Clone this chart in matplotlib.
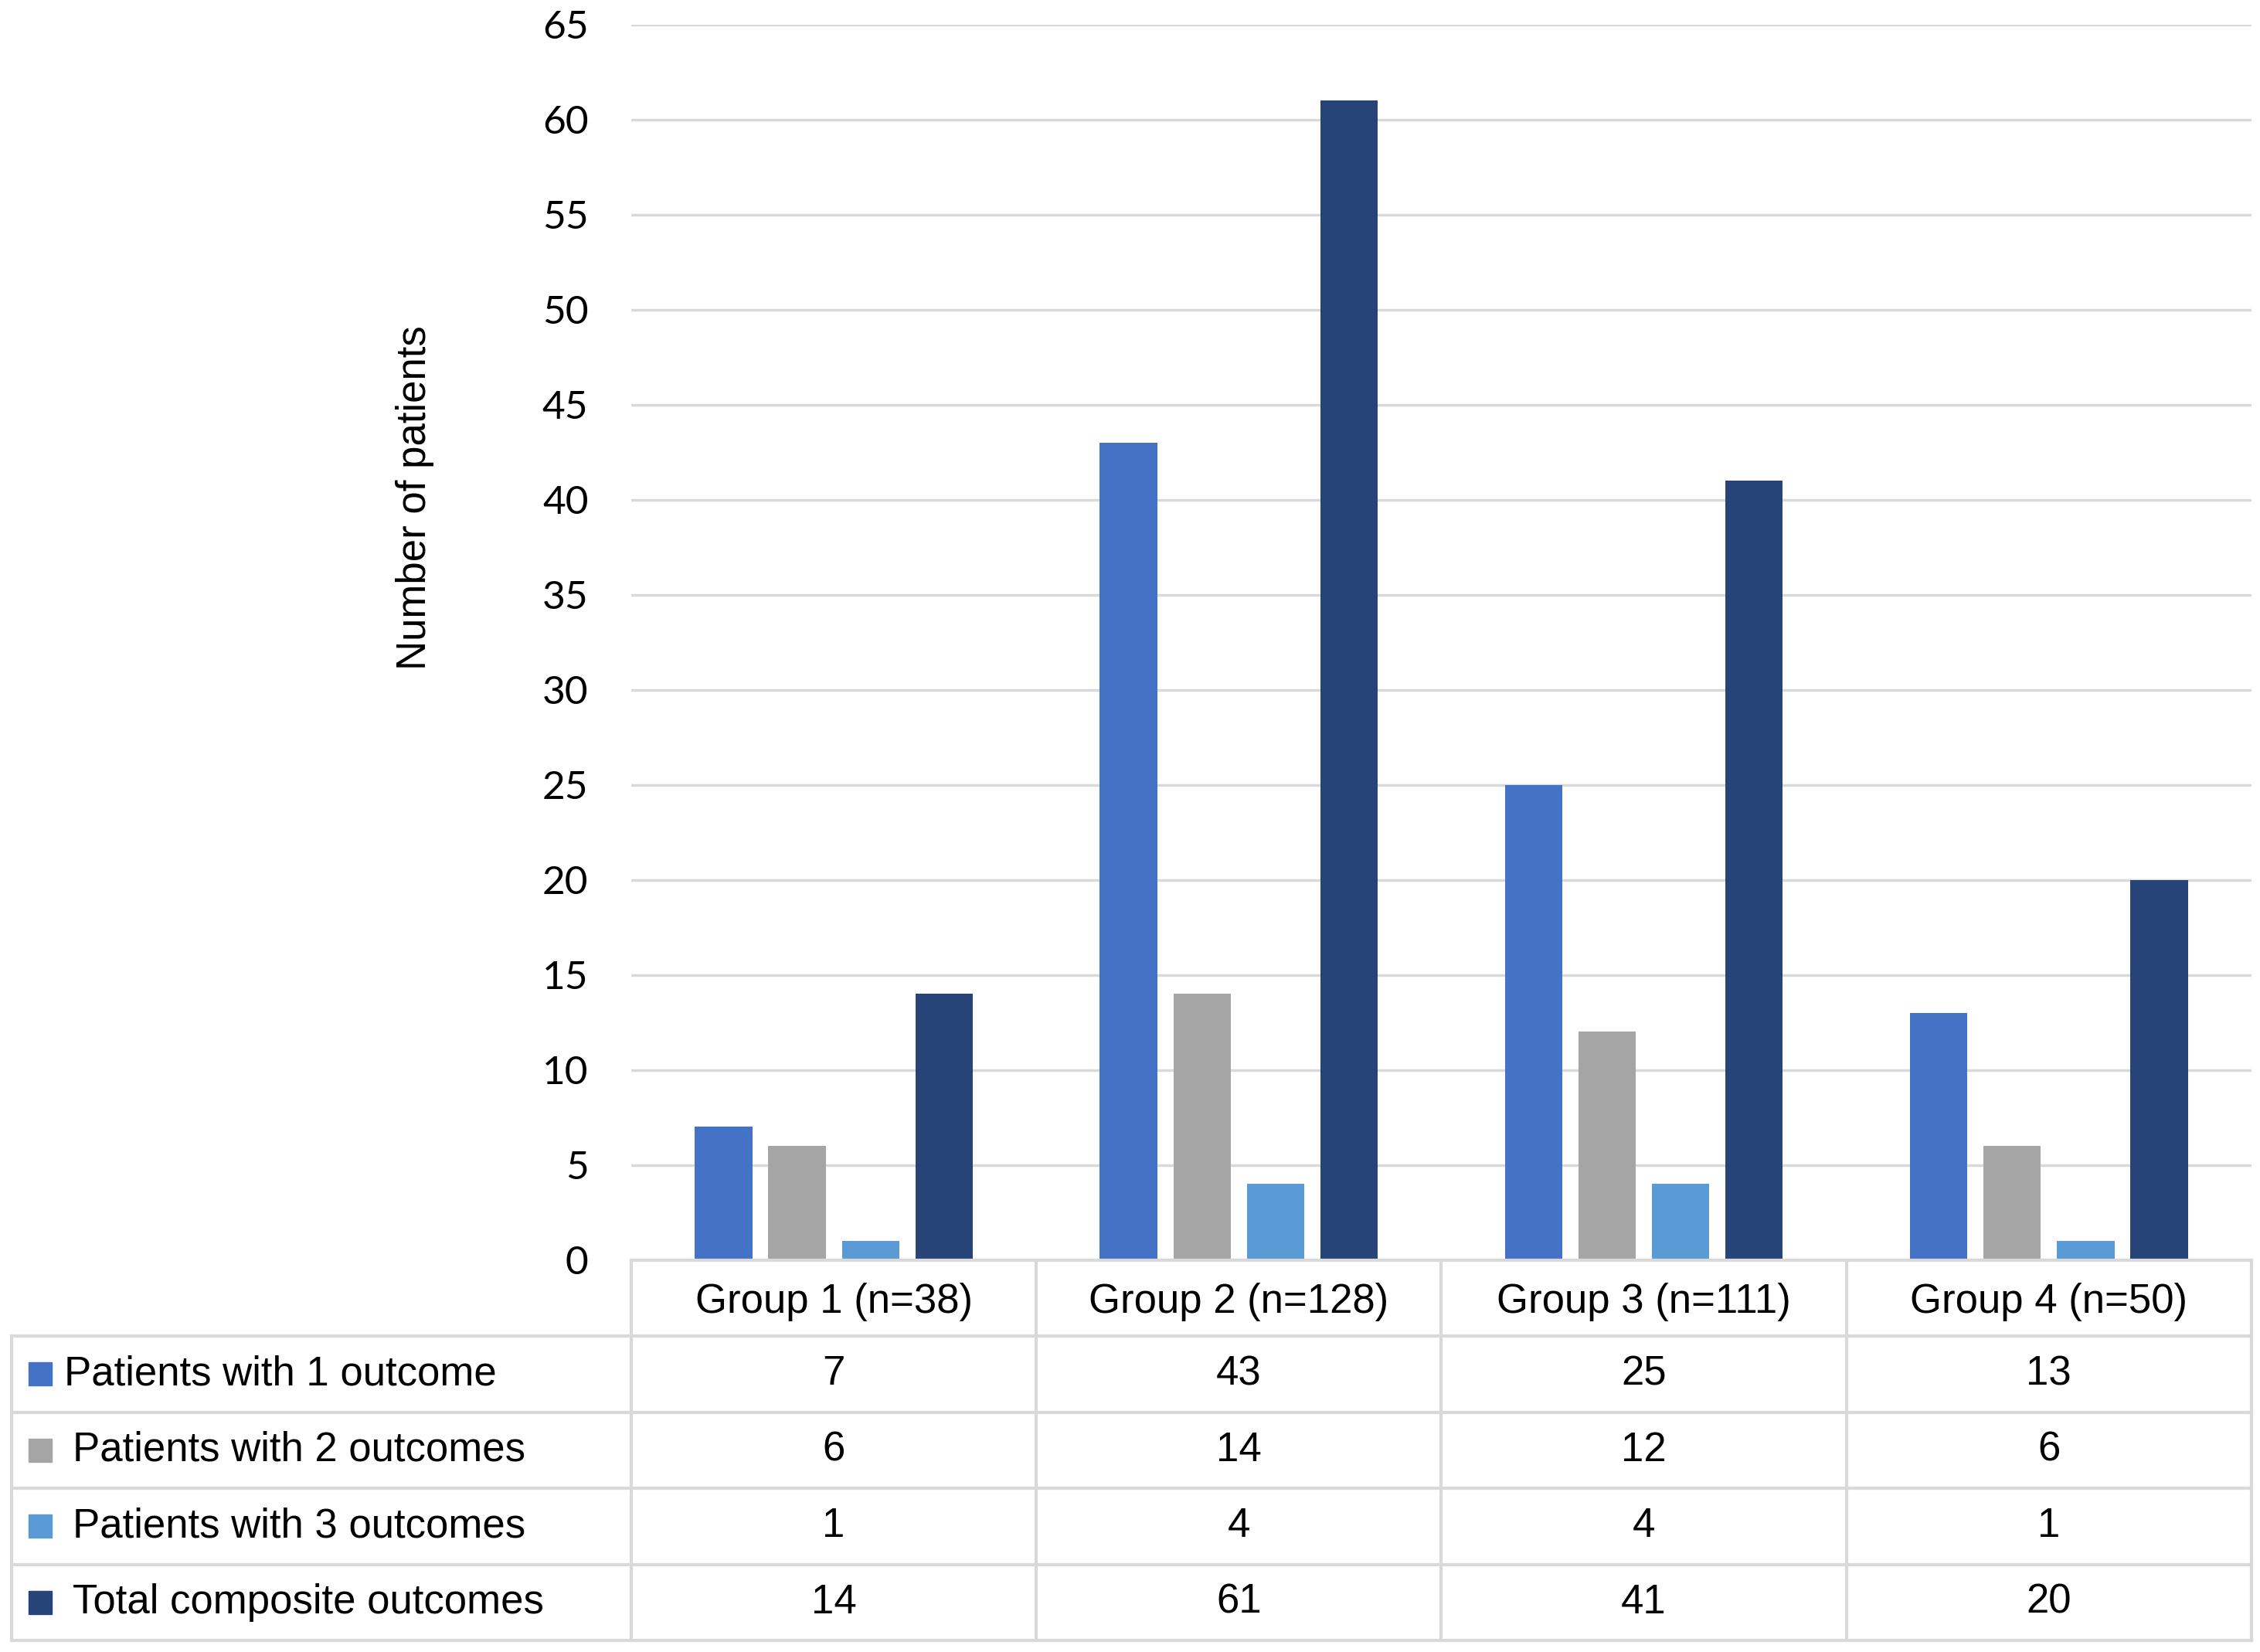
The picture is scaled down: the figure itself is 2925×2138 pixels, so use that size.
import numpy as np
import matplotlib.pyplot as plt

# Data
groups = ['Group 1 (n=38)', 'Group 2 (n=128)', 'Group 3 (n=111)', 'Group 4 (n=50)']
series_names = ['Patients with 1 outcome', 'Patients with 2 outcomes',
                'Patients with 3 outcomes', 'Total composite outcomes']
one_outcome = [7, 43, 25, 13]
two_outcomes = [6, 14, 12, 6]
three_outcomes = [1, 4, 4, 1]
total_composite = [14, 61, 41, 20]
yticks = list(range(0, 70, 5))

series = [one_outcome, two_outcomes, three_outcomes, total_composite]
colors = ['#4472C4', '#A5A5A5', '#5B9BD5', '#264478']
grid_color = '#D9D9D9'

fig = plt.figure(figsize=(29.25, 21.38), dpi=100)

# figure-fraction layout (measured on the reference)
W, H = 1568.0, 1146.0
left, right = 438 / W, 1562 / W
bottom, top = 1 - 874 / H, 1 - 17 / H

ax = fig.add_axes([left, bottom, right - left, top - bottom])
x = np.arange(len(groups))
step, width = 0.1815, 0.142
for i, (vals, col) in enumerate(zip(series, colors)):
    ax.bar(x + (i - 1.5) * step, vals, width=width, color=col, zorder=3)

ax.set_xlim(-0.5, len(groups) - 0.5)
ax.set_ylim(0, 65)
ax.set_yticks(yticks)
ax.set_yticklabels([str(t) for t in yticks], fontsize=37, family='Lato')
ax.tick_params(axis='y', length=0, pad=40)
ax.set_xticks([])
ax.yaxis.grid(True, color=grid_color, linewidth=2.5, zorder=0)
for s in ax.spines.values():
    s.set_visible(False)

fig.text(288 / W, 1 - 345 / H, 'Number of patients', rotation=90,
         ha='center', va='center', fontsize=38, family='Liberation Sans')

# data table under the chart
tleft = 8 / W
tbl = fig.add_axes([tleft, 1 - 1138 / H, right - tleft, (1138 - 874) / H])
gw = (1562 - 438) / len(groups)
x0 = -0.5 - (438 - 8) / gw
tbl.set_xlim(x0, len(groups) - 0.5)
tbl.set_ylim(0, 5)
tbl.axis('off')

lw = 3
# horizontal lines
tbl.plot([-0.5, len(groups) - 0.5], [5, 5], color=grid_color, lw=lw, clip_on=False)
for yy in [4, 3, 2, 1, 0]:
    tbl.plot([x0, len(groups) - 0.5], [yy, yy], color=grid_color, lw=lw, clip_on=False)
# vertical lines
for xx in np.arange(len(groups) + 1) - 0.5:
    tbl.plot([xx, xx], [0, 5], color=grid_color, lw=lw, clip_on=False)
tbl.plot([x0, x0], [0, 4], color=grid_color, lw=lw, clip_on=False)

for j, g in enumerate(groups):
    tbl.text(j, 4.45, g, ha='center', va='center', fontsize=38, family='Liberation Sans')

for r, (name, vals, col) in enumerate(zip(series_names, series, colors)):
    yc = 3.5 - r
    tbl.plot([x0 + 0.071], [yc], marker='s', markersize=21, color=col, clip_on=False)
    tbl.text(x0 + 0.13 + (0.02 if r > 0 else 0), yc, name, ha='left', va='center',
             fontsize=38, family='Liberation Sans')
    for j, v in enumerate(vals):
        tbl.text(j, yc, str(v), ha='center', va='center', fontsize=38,
                 family='Liberation Sans')

fig.savefig('out.png', dpi=100, facecolor='white')
